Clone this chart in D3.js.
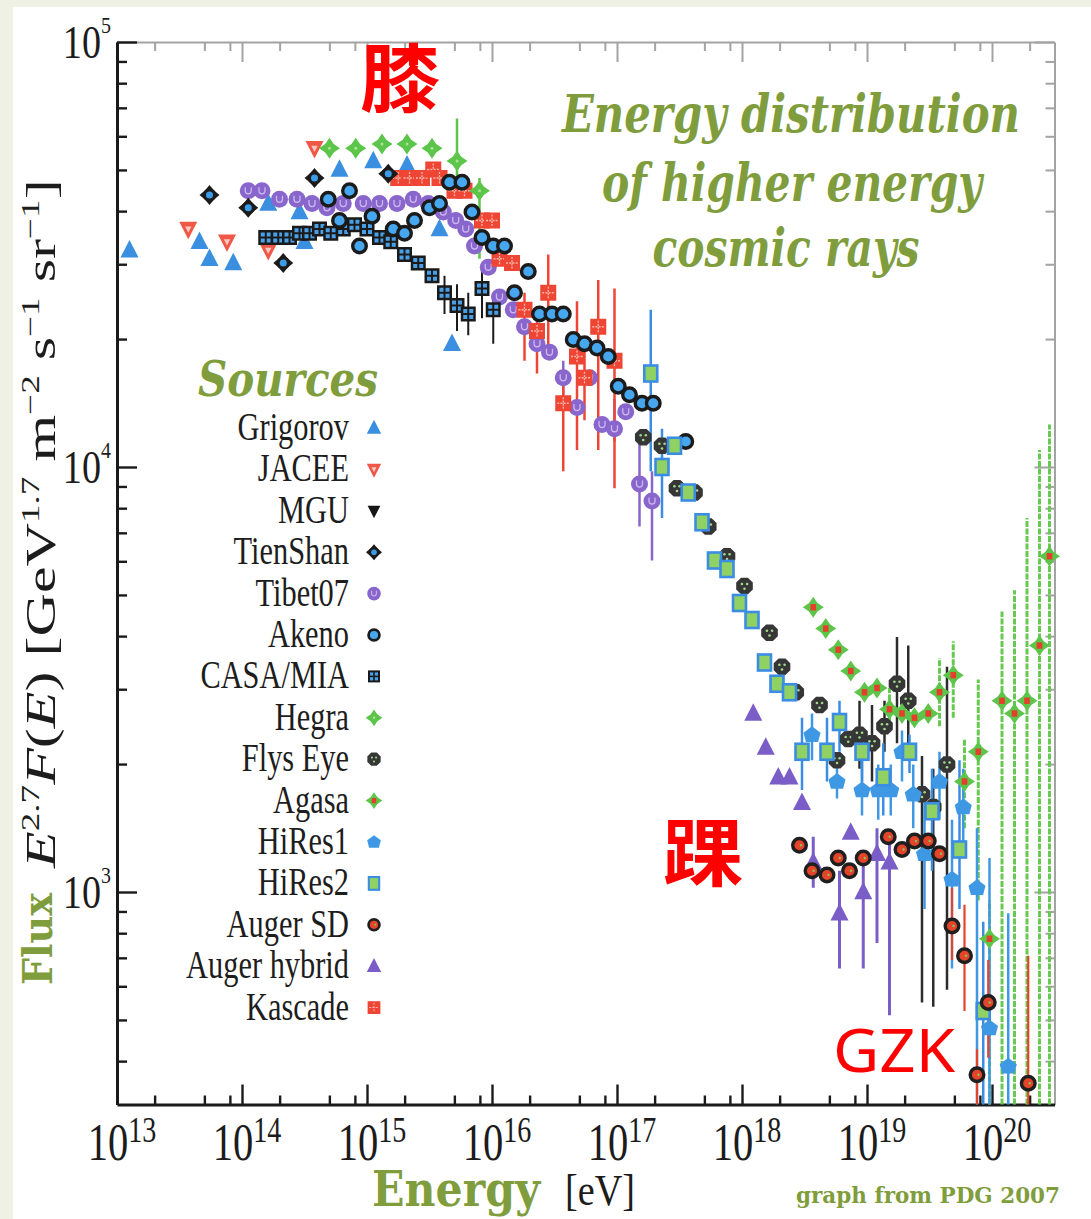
<!DOCTYPE html>
<html>
<head>
<meta charset="utf-8">
<title>Energy distribution of higher energy cosmic rays</title>
<script src="https://cdn.jsdelivr.net/npm/d3@7/dist/d3.min.js"></script>
<style>
  html, body { margin: 0; padding: 0; background: #eef1e3; }
  svg { display: block; }
</style>
</head>
<body>
<svg id="chart" width="1091" height="1219"></svg>
<script>
// Each point: [log10(E / eV), log10(E^2.7 F(E))] and, where an error bar is drawn,
// two more entries: [.., log10 lower end, log10 upper end].
const grigorov = [[13.10,4.51],[13.66,4.53],[13.74,4.49],[13.93,4.48],[14.21,4.62],[14.46,4.60],[14.50,4.53],[14.78,4.70],[15.05,4.72],[15.32,4.71],[15.58,4.56],[15.68,4.29]];
const jacee = [[13.57,4.56],[13.88,4.53],[14.21,4.51],[14.58,4.75]];
const mgu = [];
const tienShan = [[13.74,4.64],[14.05,4.61],[14.33,4.48],[14.58,4.68],[15.17,4.69]];
const tibet07 = [[14.05,4.65],[14.16,4.65],[14.30,4.63],[14.44,4.63],[14.56,4.62],[14.68,4.61],[14.81,4.62],[14.97,4.62],[15.10,4.62],[15.24,4.62],[15.37,4.63],[15.49,4.62],[15.61,4.60],[15.71,4.58],[15.79,4.56],[15.86,4.52],[15.97,4.47],[16.06,4.40],[16.17,4.37],[16.26,4.33],[16.36,4.29],[16.46,4.27],[16.57,4.21,4.17,4.25],[16.68,4.14],[16.78,4.21],[16.88,4.10],[16.98,4.09,4.06,4.16],[17.07,4.13],[17.18,3.96,3.86,4.06],[17.28,3.92,3.78,3.99]];
const akeno = [[14.69,4.63],[14.78,4.58],[14.86,4.65],[14.94,4.52],[15.04,4.59],[15.21,4.56],[15.30,4.55],[15.38,4.58],[15.50,4.61],[15.58,4.62],[15.66,4.67],[15.76,4.67],[15.84,4.60],[15.92,4.54],[16.01,4.52],[16.10,4.52],[16.18,4.41],[16.29,4.46],[16.38,4.36],[16.48,4.36],[16.57,4.36],[16.65,4.30],[16.74,4.29],[16.84,4.28],[16.93,4.26],[17.01,4.19],[17.10,4.17],[17.20,4.15],[17.29,4.15],[17.55,4.06]];
const casaMia = [[14.19,4.54],[14.29,4.54],[14.38,4.54],[14.46,4.55],[14.54,4.55],[14.62,4.56],[14.71,4.55],[14.81,4.56],[14.90,4.57],[15.00,4.56],[15.10,4.54],[15.19,4.53],[15.30,4.50],[15.41,4.48],[15.52,4.45],[15.62,4.41,4.36,4.45],[15.72,4.38,4.32,4.43],[15.81,4.36,4.31,4.41],[15.92,4.42,4.35,4.46],[16.01,4.37,4.29,4.41]];
const hegra = [[14.70,4.75],[14.91,4.75],[15.12,4.76],[15.32,4.76],[15.52,4.75],[15.72,4.72,4.68,4.82],[15.90,4.65,4.49,4.68]];
const flysEye = [[17.21,4.07],[17.36,4.05],[17.48,3.95],[17.62,3.94],[17.73,3.86],[17.88,3.79],[18.02,3.72],[18.22,3.61],[18.32,3.53],[18.43,3.47],[18.62,3.44],[18.76,3.31],[18.85,3.36],[18.94,3.37,3.29,3.45],[19.04,3.35,3.26,3.44],[19.14,3.39,3.33,3.45],[19.24,3.49,3.35,3.60],[19.33,3.45,3.31,3.58],[19.44,3.23,2.74,3.32],[19.53,3.20,2.73,3.29],[19.64,3.30,2.77,3.53]];
const agasa = [[18.57,3.67],[18.67,3.62],[18.77,3.57],[18.87,3.52],[18.98,3.47],[19.08,3.48],[19.18,3.43,3.38,3.48],[19.28,3.42],[19.38,3.41],[19.49,3.42],[19.58,3.47,3.39,3.55],[19.69,3.51,3.41,3.59],[19.78,3.26,3.15,3.36],[19.89,3.33,2.98,3.50],[19.98,2.89,2.50,2.98],[20.08,3.45,2.50,3.66],[20.18,3.42,2.50,3.71],[20.28,3.45,2.50,3.88],[20.38,3.58,2.50,4.04],[20.46,3.79,2.50,4.10]];
const hiRes1 = [[18.56,3.37,3.31,3.42],[18.76,3.26,3.22,3.32],[18.96,3.24,3.18,3.31],[19.09,3.24,3.17,3.30],[19.19,3.24,3.18,3.30],[19.28,3.33,3.26,3.38],[19.37,3.23,3.15,3.30],[19.46,3.09,2.96,3.22],[19.58,3.26,3.17,3.33],[19.68,3.03,2.82,3.17],[19.77,3.20,3.10,3.29],[19.88,3.01,2.50,3.15],[19.98,2.68,2.50,3.08],[20.13,2.59,2.50,2.95]];
const hiRes2 = [[17.27,4.22,3.99,4.37],[17.36,4.00,3.88,4.09],[17.46,4.05],[17.57,3.94],[17.68,3.87],[17.78,3.78],[17.88,3.76],[17.98,3.68],[18.08,3.64],[18.18,3.54],[18.28,3.49],[18.38,3.47],[18.48,3.33,3.24,3.41],[18.68,3.33,3.26,3.41],[18.78,3.40,3.33,3.45],[18.96,3.33,3.26,3.38],[19.13,3.27,3.18,3.35],[19.34,3.33,3.28,3.37],[19.52,3.19,3.05,3.29],[19.74,3.10,2.96,3.31],[19.93,2.72,2.50,2.93]];
const augerSD = [[18.46,3.11],[18.56,3.05],[18.68,3.04],[18.77,3.08],[18.86,3.05],[18.97,3.08],[19.17,3.13],[19.28,3.10],[19.38,3.12],[19.49,3.12],[19.58,3.09],[19.68,2.92,2.84,3.01],[19.78,2.85,2.72,2.97],[19.88,2.57,2.50,2.63],[19.97,2.74,2.61,2.84],[20.29,2.55,2.50,2.85]];
const augerHybrid = [[18.09,3.42],[18.19,3.34],[18.29,3.27],[18.38,3.27],[18.48,3.21],[18.57,3.07,3.01,3.13],[18.78,2.95,2.82,3.05],[18.87,3.14],[18.97,3.00,2.82,3.08],[19.08,3.09,2.88,3.15],[19.18,3.07,2.71,3.12]];
const kascade = [[15.25,4.68],[15.34,4.68],[15.44,4.68],[15.53,4.70],[15.58,4.68],[15.70,4.65],[15.78,4.65],[15.92,4.58],[16.00,4.58],[16.06,4.49],[16.16,4.48],[16.26,4.37,4.25,4.41],[16.36,4.32,4.22,4.37],[16.45,4.41,4.28,4.50],[16.57,4.15,3.99,4.23],[16.68,4.26,4.04,4.39],[16.74,4.21,4.11,4.29],[16.85,4.33,4.04,4.44],[16.98,4.25,3.95,4.42]];

const legendNames = ["Grigorov","JACEE","MGU","TienShan","Tibet07","Akeno","CASA/MIA","Hegra","Flys Eye","Agasa","HiRes1","HiRes2","Auger SD","Auger hybrid","Kascade"];
const xTickExponents = [13,14,15,16,17,18,19,20];
const yTickExponents = [3,4,5];
const xMinorMultipliers = [2,5,8];
const yMinorMultipliers = [2,3,4,5,6,7,8,9];
const titleLines = ["Energy distribution","of higher energy","cosmic rays"];

// ---------------------------------------------------------------------------
const W = 1091, H = 1219;
const svg = d3.select("#chart");
const serif = "'Liberation Serif','Times New Roman',serif";
const slab = "'DejaVu Serif',serif";
const green = "#7f9d3d";

svg.append("rect").attr("width", W).attr("height", H).attr("fill", "#eef1e3");
svg.append("rect").attr("x", 13).attr("y", 7).attr("width", W - 13).attr("height", H - 7).attr("fill", "#ffffff");

const X0 = 117, X1 = 1054.5, YB = 1104.5, YT = 42;
const x = d3.scaleLog().domain([1e13, 10 ** 20.5]).range([X0, X1]);
const y = d3.scaleLog().domain([10 ** 2.5, 1e5]).range([YB, YT]);
const ex = d => x(10 ** d[0]);
const ey = v => y(10 ** v);

// ---- axes -----------------------------------------------------------------
const xMajor = xTickExponents.map(e => 10 ** e);
const xMinor = d3.range(13, 21).flatMap(e => xMinorMultipliers.map(m => m * 10 ** e)).filter(v => v < 10 ** 20.5);
const yMajor = yTickExponents.map(e => 10 ** e);
const yMinor = d3.range(2, 5).flatMap(e => yMinorMultipliers.map(m => m * 10 ** e)).filter(v => v > 10 ** 2.5 && v < 1e5);

function axisLayer(axis, transform, color, tickWidth, domainWidth) {
  const g = svg.append("g").attr("transform", transform).call(axis);
  g.selectAll(".tick text").remove();
  g.selectAll(".tick line").attr("stroke", color).attr("stroke-width", tickWidth);
  if (domainWidth) g.select(".domain").attr("stroke", color).attr("stroke-width", domainWidth);
  else g.select(".domain").remove();
  return g;
}
const frameGrey = "#a3a3a3";
// top and right frame (grey)
axisLayer(d3.axisTop(x).tickValues(xMajor).tickSizeInner(-20).tickSizeOuter(0), `translate(0,${YT})`, frameGrey, 2, 2);
axisLayer(d3.axisTop(x).tickValues(xMinor).tickSizeInner(-9).tickSizeOuter(0), `translate(0,${YT})`, frameGrey, 2, 0);
axisLayer(d3.axisRight(y).tickValues(yMajor).tickSizeInner(-20).tickSizeOuter(0), `translate(${X1},0)`, frameGrey, 2, 2);
axisLayer(d3.axisRight(y).tickValues(yMinor).tickSizeInner(-9).tickSizeOuter(0), `translate(${X1},0)`, frameGrey, 2, 0);
// bottom and left axes (black)
axisLayer(d3.axisBottom(x).tickValues(xMajor).tickSizeInner(-20).tickSizeOuter(0), `translate(0,${YB})`, "#1a1a1a", 2.4, 3);
axisLayer(d3.axisBottom(x).tickValues(xMinor).tickSizeInner(-9).tickSizeOuter(0), `translate(0,${YB})`, "#1a1a1a", 2.4, 0);
axisLayer(d3.axisLeft(y).tickValues(yMajor).tickSizeInner(-20).tickSizeOuter(0), `translate(${X0},0)`, "#1a1a1a", 2.4, 3);
axisLayer(d3.axisLeft(y).tickValues(yMinor).tickSizeInner(-10).tickSizeOuter(0), `translate(${X0},0)`, "#1a1a1a", 2.4, 0);

// tick labels 10^n
xTickExponents.forEach(e => {
  const t = svg.append("g").attr("transform", `translate(${x(10 ** e) + 5},1160) scale(0.78,1)`)
    .append("text").attr("text-anchor", "middle").attr("font-family", serif).attr("fill", "#1c1c1c");
  t.append("tspan").attr("font-size", 52).text("10");
  t.append("tspan").attr("font-size", 36).attr("dy", -18).text(e);
});
yTickExponents.forEach(e => {
  const t = svg.append("g").attr("transform", `translate(111,${y(10 ** e) + 16}) scale(0.83,1)`)
    .append("text").attr("text-anchor", "end").attr("font-family", serif).attr("fill", "#1c1c1c");
  t.append("tspan").attr("font-size", 46).text("10");
  t.append("tspan").attr("font-size", 24).attr("dy", -25).text(e);
});

// axis titles
svg.append("text").attr("transform", "translate(52,985) rotate(-90)")
  .attr("font-family", slab).attr("font-weight", "bold").attr("font-size", 41).attr("fill", green)
  .attr("textLength", 92).attr("lengthAdjust", "spacingAndGlyphs").text("Flux");
{
  const t = svg.append("g").attr("transform", "translate(55,868) rotate(-90) scale(1.43,1)")
    .append("text").attr("font-family", serif).attr("font-size", 42).attr("fill", "#1c1c1c");
  const parts = [
    ["E", "italic", 0, 42], ["2.7", "normal", -16, 26], ["F", "italic", 16, 42], ["(", "normal", 0, 42],
    ["E", "italic", 0, 42], [")", "normal", 0, 42], [" [GeV", "normal", 0, 42], ["1.7", "normal", -16, 26],
    [" m", "normal", 16, 42], ["\u22122", "normal", -16, 26], [" s", "normal", 16, 42], ["\u22121", "normal", -16, 26],
    [" sr", "normal", 16, 42], ["\u22121", "normal", -16, 26], ["]", "normal", 16, 42]
  ];
  parts.forEach(([txt, style, dy, size]) => {
    t.append("tspan").attr("font-style", style).attr("dy", dy).attr("font-size", size).text(txt);
  });
}
svg.append("text").attr("x", 372).attr("y", 1206)
  .attr("font-family", slab).attr("font-weight", "bold").attr("font-size", 48).attr("fill", green)
  .attr("textLength", 168).attr("lengthAdjust", "spacingAndGlyphs").text("Energy");
svg.append("text").attr("x", 565).attr("y", 1205)
  .attr("font-family", serif).attr("font-size", 44).attr("fill", "#1c1c1c")
  .attr("textLength", 70).attr("lengthAdjust", "spacingAndGlyphs").text("[eV]");
svg.append("text").attr("x", 796).attr("y", 1203)
  .attr("font-family", slab).attr("font-weight", "bold").attr("font-size", 23).attr("fill", green)
  .attr("textLength", 264).attr("lengthAdjust", "spacingAndGlyphs").text("graph from PDG 2007");

// chart title
const titleSpec = [[791, 132, 458], [792, 201, 380], [786, 266, 267]];
titleLines.forEach((line, i) => {
  const [cx, by, len] = titleSpec[i];
  svg.append("text").attr("x", cx).attr("y", by).attr("text-anchor", "middle")
    .attr("font-family", slab).attr("font-weight", "bold").attr("font-style", "italic")
    .attr("font-size", 52).attr("fill", green)
    .attr("textLength", len).attr("lengthAdjust", "spacingAndGlyphs").text(line);
});

// ---- marker shapes --------------------------------------------------------
const triUp = r => `M0,${-r * 1.15}L${r},${r * 0.8}L${-r},${r * 0.8}Z`;
const triDown = r => `M0,${r * 1.15}L${r},${-r * 0.8}L${-r},${-r * 0.8}Z`;
function starPath(n, rOut, rIn) {
  const pts = d3.range(n * 2).map(i => {
    const a = -Math.PI / 2 + i * Math.PI / n, r = i % 2 ? rIn : rOut;
    return [r * Math.cos(a), r * Math.sin(a)];
  });
  return "M" + pts.map(p => p[0].toFixed(2) + "," + p[1].toFixed(2)).join("L") + "Z";
}
function polygon(n, r, rot) {
  const pts = d3.range(n).map(i => {
    const a = rot + i * 2 * Math.PI / n;
    return [r * Math.cos(a), r * Math.sin(a)];
  });
  return "M" + pts.map(p => p[0].toFixed(2) + "," + p[1].toFixed(2)).join("L") + "Z";
}
const pentagon = r => `M0,${-r}L${r},${-r * 0.25}L${r * 0.72},${r * 0.85}L${-r * 0.72},${r * 0.85}L${-r},${-r * 0.25}Z`;

const looks = {
  "Grigorov": (g, s) => g.append("path").attr("d", triUp(9 * s)).attr("fill", "#3b8fe0"),
  "JACEE": (g, s) => {
    g.append("path").attr("d", triDown(9 * s)).attr("fill", "#ef5747");
    g.append("path").attr("d", triDown(3.2 * s)).attr("fill", "#fbc9bf");
  },
  "MGU": (g, s) => g.append("path").attr("d", triDown(8 * s)).attr("fill", "#161616"),
  "TienShan": (g, s) => {
    g.append("path").attr("d", starPath(4, 10 * s, 6.5 * s)).attr("fill", "#1b1b1b");
    g.append("circle").attr("r", 6.6 * s).attr("fill", "#1b1b1b");
    g.append("circle").attr("r", 3.5 * s).attr("fill", "#3b9de8");
  },
  "Tibet07": (g, s) => {
    g.append("circle").attr("r", 8.5 * s).attr("fill", "#8966cb");
    g.append("path").attr("d", `M${-3 * s},${-3.5 * s}v${3.5 * s}a${3 * s},${3 * s} 0 0 0 ${6 * s},0v${-3.5 * s}`)
      .attr("fill", "none").attr("stroke", "#cbb8f2").attr("stroke-width", 1.3 * s);
  },
  "Akeno": (g, s) => g.append("circle").attr("r", 6.8 * s).attr("fill", "#46a7ef")
    .attr("stroke", "#1b1b1b").attr("stroke-width", 3.4 * s),
  "CASA/MIA": (g, s) => {
    g.append("rect").attr("x", -7.5 * s).attr("y", -7.5 * s).attr("width", 15 * s).attr("height", 15 * s).attr("fill", "#1a1a1a");
    [[-5, -5], [1, -5], [-5, 1], [1, 1]].forEach(([a, b]) =>
      g.append("rect").attr("x", a * s).attr("y", b * s).attr("width", 4 * s).attr("height", 4 * s).attr("fill", "#4aa0e6"));
  },
  "Hegra": (g, s) => {
    g.append("path").attr("d", starPath(4, 10.5 * s, 6 * s)).attr("fill", "#5cc54a");
    g.append("circle").attr("r", 5.6 * s).attr("fill", "#5cc54a");
    g.append("circle").attr("r", 1.5 * s).attr("fill", "#a8e292");
  },
  "Flys Eye": (g, s) => {
    g.append("path").attr("d", polygon(8, 9 * s, Math.PI / 8)).attr("fill", "#363636");
    [[-2.6, -2], [2.6, -2], [0, 2.8]].forEach(([a, b]) =>
      g.append("circle").attr("cx", a * s).attr("cy", b * s).attr("r", 1.3 * s).attr("fill", "#a3d98c"));
  },
  "Agasa": (g, s) => {
    g.append("path").attr("d", starPath(4, 10.5 * s, 6 * s)).attr("fill", "#5cc54a");
    g.append("circle").attr("r", 5.6 * s).attr("fill", "#5cc54a");
    g.append("rect").attr("x", -2.8 * s).attr("y", -3.2 * s).attr("width", 5.6 * s).attr("height", 6.4 * s).attr("fill", "#e53e2b");
  },
  "HiRes1": (g, s) => g.append("path").attr("d", pentagon(8.5 * s)).attr("fill", "#3f98e3"),
  "HiRes2": (g, s) => g.append("rect").attr("x", -6.5 * s).attr("y", -8 * s).attr("width", 13 * s).attr("height", 16 * s)
    .attr("fill", "#8fd163").attr("stroke", "#3b8de3").attr("stroke-width", 2.6 * s),
  "Auger SD": (g, s) => {
    g.append("circle").attr("r", 6.8 * s).attr("fill", "#e4442a").attr("stroke", "#1f1f1f").attr("stroke-width", 3.4 * s);
    g.append("circle").attr("cx", 1.5 * s).attr("r", 1.2 * s).attr("fill", "#86c463");
  },
  "Auger hybrid": (g, s) => g.append("path").attr("d", triUp(9 * s)).attr("fill", "#7a5dc6"),
  "Kascade": (g, s) => {
    g.append("rect").attr("x", -8 * s).attr("y", -8 * s).attr("width", 16 * s).attr("height", 16 * s).attr("fill", "#ee4535");
    g.append("path").attr("d", `M0,${-6 * s}V${6 * s}M${-6 * s},0H${6 * s}`)
      .attr("stroke", "#fab7a8").attr("stroke-width", 1.3 * s).attr("stroke-dasharray", "2,1.2");
  }
};

const seriesData = {
  "Grigorov": grigorov, "JACEE": jacee, "MGU": mgu, "TienShan": tienShan, "Tibet07": tibet07,
  "Akeno": akeno, "CASA/MIA": casaMia, "Hegra": hegra, "Flys Eye": flysEye, "Agasa": agasa,
  "HiRes1": hiRes1, "HiRes2": hiRes2, "Auger SD": augerSD, "Auger hybrid": augerHybrid, "Kascade": kascade
};
const barStyle = {
  "Tibet07": ["#8966cb", 2.5], "CASA/MIA": ["#1a1a1a", 2], "Hegra": ["#5cc54a", 2.5], "Flys Eye": ["#2c2c2c", 2.5],
  "Agasa": ["#66ca52", 3], "HiRes1": ["#3f98e3", 2.5], "HiRes2": ["#3b8de3", 2.5], "Auger SD": ["#e4442a", 2.2],
  "Auger hybrid": ["#7a5dc6", 3], "Kascade": ["#ee4535", 2.5]
};

// error bars behind all markers
const bars = svg.append("g");
Object.entries(barStyle).forEach(([name, [color, w]]) => {
  bars.selectAll(null).data(seriesData[name].filter(d => d.length === 4)).join("line")
    .attr("x1", ex).attr("x2", ex)
    .attr("y1", d => ey(d[2])).attr("y2", d => ey(d[3]))
    .attr("stroke", color).attr("stroke-width", w)
    .attr("stroke-dasharray", name === "Agasa" ? "6,1.5" : null);
});

// markers, drawn bottom to top
const drawOrder = ["Grigorov", "JACEE", "MGU", "Tibet07", "CASA/MIA", "Kascade", "Hegra", "TienShan", "Akeno",
  "Auger hybrid", "Flys Eye", "HiRes1", "HiRes2", "Agasa", "Auger SD"];
drawOrder.forEach(name => {
  svg.append("g").selectAll("g").data(seriesData[name]).join("g")
    .attr("transform", d => `translate(${ex(d)},${ey(d[1])})`)
    .each(function () { looks[name](d3.select(this), 1); });
});

// ---- legend ---------------------------------------------------------------
svg.append("text").attr("x", 198).attr("y", 396)
  .attr("font-family", slab).attr("font-weight", "bold").attr("font-style", "italic")
  .attr("font-size", 48).attr("fill", green)
  .attr("textLength", 180).attr("lengthAdjust", "spacingAndGlyphs").text("Sources");
legendNames.forEach((name, i) => {
  const cy = 428 + i * 41.4;
  svg.append("g").attr("transform", `translate(349,${cy + 12}) scale(0.76,1)`)
    .append("text").attr("text-anchor", "end").attr("font-family", serif).attr("font-size", 40)
    .attr("fill", "#1d1d1d").text(name);
  looks[name](svg.append("g").attr("transform", `translate(374,${cy})`), 0.8);
});

// ---- annotations ----------------------------------------------------------
const cjk = "'Noto Sans CJK SC','Noto Sans CJK TC',sans-serif";
svg.append("text").attr("transform", "translate(400,106) scale(1.08,1)").attr("text-anchor", "middle")
  .attr("font-family", cjk).attr("font-weight", "bold").attr("font-size", 74).attr("fill", "#ff0000").text("膝");
svg.append("text").attr("transform", "translate(703,880) scale(1.08,1)").attr("text-anchor", "middle")
  .attr("font-family", cjk).attr("font-weight", "bold").attr("font-size", 74).attr("fill", "#ff0000").text("踝");
svg.append("text").attr("x", 833).attr("y", 1072)
  .attr("font-family", "'Noto Sans','DejaVu Sans',sans-serif").attr("font-size", 61).attr("fill", "#ff0000")
  .attr("textLength", 122).attr("lengthAdjust", "spacingAndGlyphs").text("GZK");
</script>
</body>
</html>
